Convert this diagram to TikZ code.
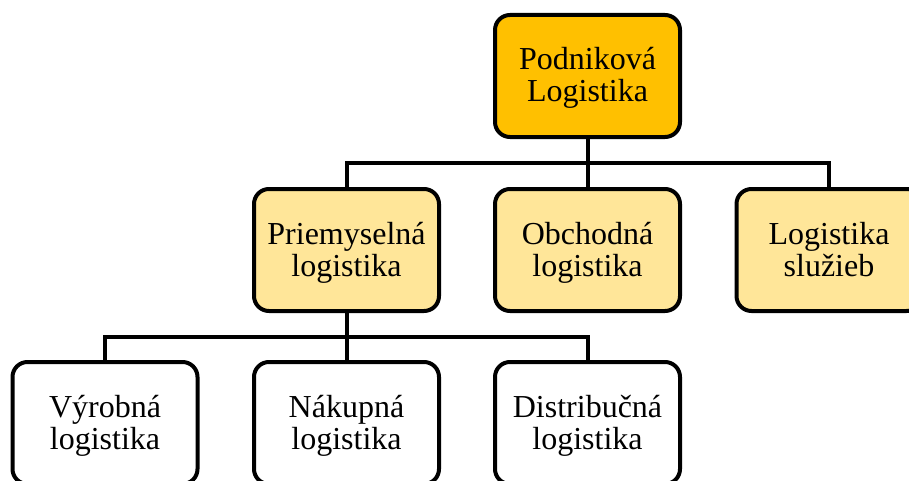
\documentclass[tikz,border=0pt]{standalone}
\usepackage{fontspec}
\setmainfont{Liberation Serif}
\definecolor{gold}{HTML}{FFC000}
\definecolor{lightgold}{HTML}{FFE699}
% two centred lines with fixed line metrics, so every box sets its text alike
\newcommand{\twolines}[2]{\rule{0pt}{13.5pt}#1\\#2\rule[-3.5pt]{0pt}{3.5pt}}
\begin{document}
\begin{tikzpicture}[x=0.5pt,y=-0.5pt,
  unit/.style={draw=black, line width=2pt, rounded corners=7.5pt,
    minimum width=92.5pt, minimum height=61pt, align=center, inner sep=0pt,
    font=\fontsize{16pt}{16pt}\selectfont},
  rootbox/.style={unit, fill=gold},
  midbox/.style={unit, fill=lightgold},
  leafbox/.style={unit, fill=white},
  link/.style={line width=2pt}]
  \useasboundingbox (0,0) rectangle (909,481);
  \clip (0,0) rectangle (909,481);

  % top level
  \node[rootbox] (root) at (587.5,76) {\twolines{Podniková}{Logistika}};

  % second level
  \node[midbox] (prim) at (346.5,250) {\twolines{Priemyselná}{logistika}};
  \node[midbox] (obch) at (587.5,250) {\twolines{Obchodná}{logistika}};
  \node[midbox] (sluz) at (829,250) {\twolines{Logistika}{služieb}};

  % third level
  \node[leafbox] (vyr) at (105,423) {\twolines{Výrobná}{logistika}};
  \node[leafbox] (nak) at (346.5,423) {\twolines{Nákupná}{logistika}};
  \node[leafbox] (dis) at (587.5,423) {\twolines{Distribučná}{logistika}};

  % connectors
  \coordinate (bus1) at (587.5,163);
  \draw[link] (root.south) -- (bus1);
  \draw[link] (prim.north) |- (bus1) -| (sluz.north);
  \draw[link] (bus1) -- (obch.north);

  \coordinate (bus2) at (346.5,337);
  \draw[link] (prim.south) -- (bus2);
  \draw[link] (vyr.north) |- (bus2) -| (dis.north);
  \draw[link] (bus2) -- (nak.north);
\end{tikzpicture}
\end{document}
